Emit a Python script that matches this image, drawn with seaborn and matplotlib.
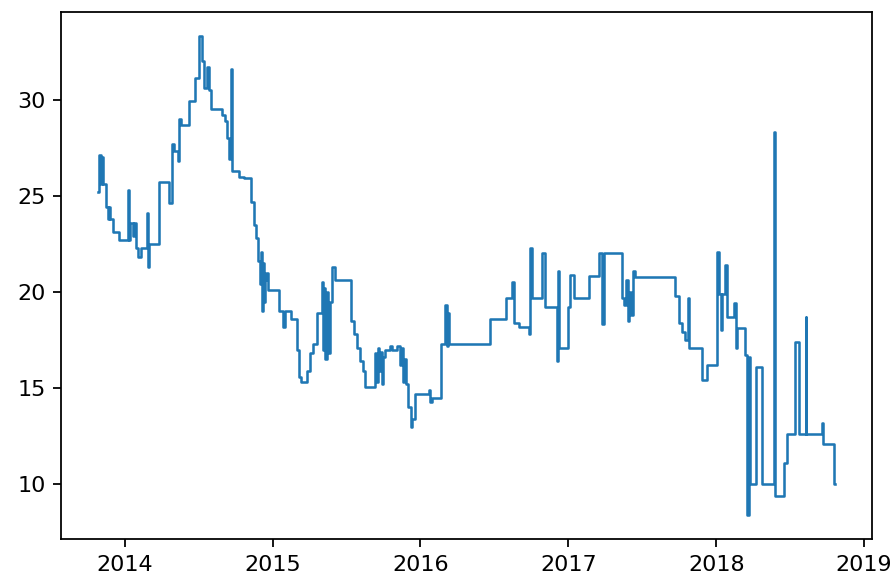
import matplotlib
matplotlib.use("Agg")
import matplotlib.pyplot as plt
import numpy as np
import pandas as pd
import seaborn as sns

# dates as decimal years (step series)
years = [
    2013.817, 2013.824, 2013.837, 2013.844, 2013.854, 2013.871, 2013.885, 2013.892,
    2013.898, 2013.922, 2013.959, 2014.024, 2014.030, 2014.037, 2014.054, 2014.061,
    2014.075, 2014.088, 2014.108, 2014.149, 2014.156, 2014.163, 2014.232, 2014.298,
    2014.315, 2014.332, 2014.359, 2014.366, 2014.379, 2014.432, 2014.476, 2014.498,
    2014.522, 2014.535, 2014.556, 2014.569, 2014.579, 2014.657, 2014.678, 2014.691,
    2014.701, 2014.708, 2014.718, 2014.725, 2014.769, 2014.803, 2014.854, 2014.871,
    2014.884, 2014.901, 2014.911, 2014.918, 2014.925, 2014.932, 2014.938, 2014.945,
    2014.955, 2014.969, 2015.043, 2015.067, 2015.081, 2015.125, 2015.165, 2015.176,
    2015.192, 2015.233, 2015.253, 2015.274, 2015.297, 2015.331, 2015.338, 2015.348,
    2015.355, 2015.365, 2015.375, 2015.386, 2015.399, 2015.419, 2015.531, 2015.552,
    2015.572, 2015.592, 2015.612, 2015.626, 2015.694, 2015.701, 2015.711, 2015.721,
    2015.731, 2015.741, 2015.748, 2015.762, 2015.795, 2015.809, 2015.843, 2015.863,
    2015.870, 2015.880, 2015.890, 2015.904, 2015.917, 2015.934, 2015.944, 2015.965,
    2016.056, 2016.066, 2016.080, 2016.141, 2016.165, 2016.178, 2016.185, 2016.192,
    2016.470, 2016.575, 2016.619, 2016.632, 2016.666, 2016.730, 2016.741, 2016.751,
    2016.822, 2016.839, 2016.924, 2016.930, 2016.937, 2016.995, 2017.008, 2017.035,
    2017.140, 2017.208, 2017.228, 2017.239, 2017.360, 2017.374, 2017.388, 2017.401,
    2017.411, 2017.421, 2017.435, 2017.449, 2017.720, 2017.747, 2017.767, 2017.787,
    2017.808, 2017.818, 2017.902, 2017.940, 2018.004, 2018.018, 2018.035, 2018.041,
    2018.062, 2018.072, 2018.119, 2018.133, 2018.143, 2018.194, 2018.207, 2018.218,
    2018.228, 2018.268, 2018.306, 2018.387, 2018.394, 2018.458, 2018.478, 2018.533,
    2018.560, 2018.604, 2018.610, 2018.712, 2018.722, 2018.797, 2018.804,
]
values = [
    25.2, 27.1, 25.6, 27.0, 25.6, 24.4, 23.8, 24.4,
    23.8, 23.1, 22.7, 25.3, 22.7, 23.6, 22.9, 23.6,
    22.3, 21.8, 22.3, 24.1, 21.3, 22.5, 25.7, 24.6,
    27.7, 27.3, 26.8, 29.0, 28.7, 29.9, 31.1, 33.3,
    32.0, 30.6, 31.7, 30.5, 29.5, 29.2, 28.9, 28.0,
    26.9, 27.8, 31.6, 26.3, 26.0, 25.9, 24.7, 23.5,
    22.8, 21.6, 20.4, 22.1, 19.0, 21.5, 19.5, 20.6,
    21.0, 20.1, 19.0, 18.2, 19.0, 18.6, 17.0, 15.6,
    15.3, 15.9, 16.8, 17.3, 18.9, 20.5, 17.0, 20.2,
    16.5, 20.0, 16.8, 19.5, 21.3, 20.6, 18.5, 17.8,
    17.1, 16.4, 15.9, 15.05, 16.8, 15.3, 17.1, 15.9,
    16.9, 15.2, 16.6, 17.0, 17.2, 17.0, 17.2, 16.2,
    17.1, 15.3, 16.5, 15.2, 14.0, 13.0, 13.4, 14.7,
    14.9, 14.3, 14.5, 17.3, 19.3, 17.2, 18.9, 17.3,
    18.6, 19.7, 20.5, 18.4, 18.2, 17.8, 22.3, 19.7,
    22.0, 19.2, 16.4, 21.1, 17.1, 19.2, 20.9, 19.7,
    20.85, 22.0, 18.35, 22.0, 19.7, 19.3, 20.6, 18.5,
    20.0, 18.8, 21.1, 20.75, 19.8, 18.4, 17.9, 17.5,
    19.7, 17.1, 15.4, 16.2, 22.1, 19.9, 18.0, 19.9,
    21.4, 18.7, 19.4, 17.1, 18.1, 16.7, 8.4, 16.6,
    10.0, 16.1, 10.0, 28.3, 9.4, 11.1, 12.6, 17.4,
    12.6, 18.7, 12.6, 13.2, 12.1, 10.0, 10.0,
]

t = np.array(years)
dates = pd.Timestamp("2013-01-01") + pd.to_timedelta((t - 2013) * 365.25, unit="D")

fig = plt.figure(figsize=(892 / 160, 578 / 160), dpi=160)
ax = fig.add_axes([0.0684, 0.0675, 0.9092, 0.9115])

sns.lineplot(x=dates, y=values, drawstyle="steps-post", color="#1f77b4",
             linewidth=1.15, ax=ax)
ax.set_xlabel("")
ax.set_ylabel("")

fig.savefig("out.png", dpi=160)
